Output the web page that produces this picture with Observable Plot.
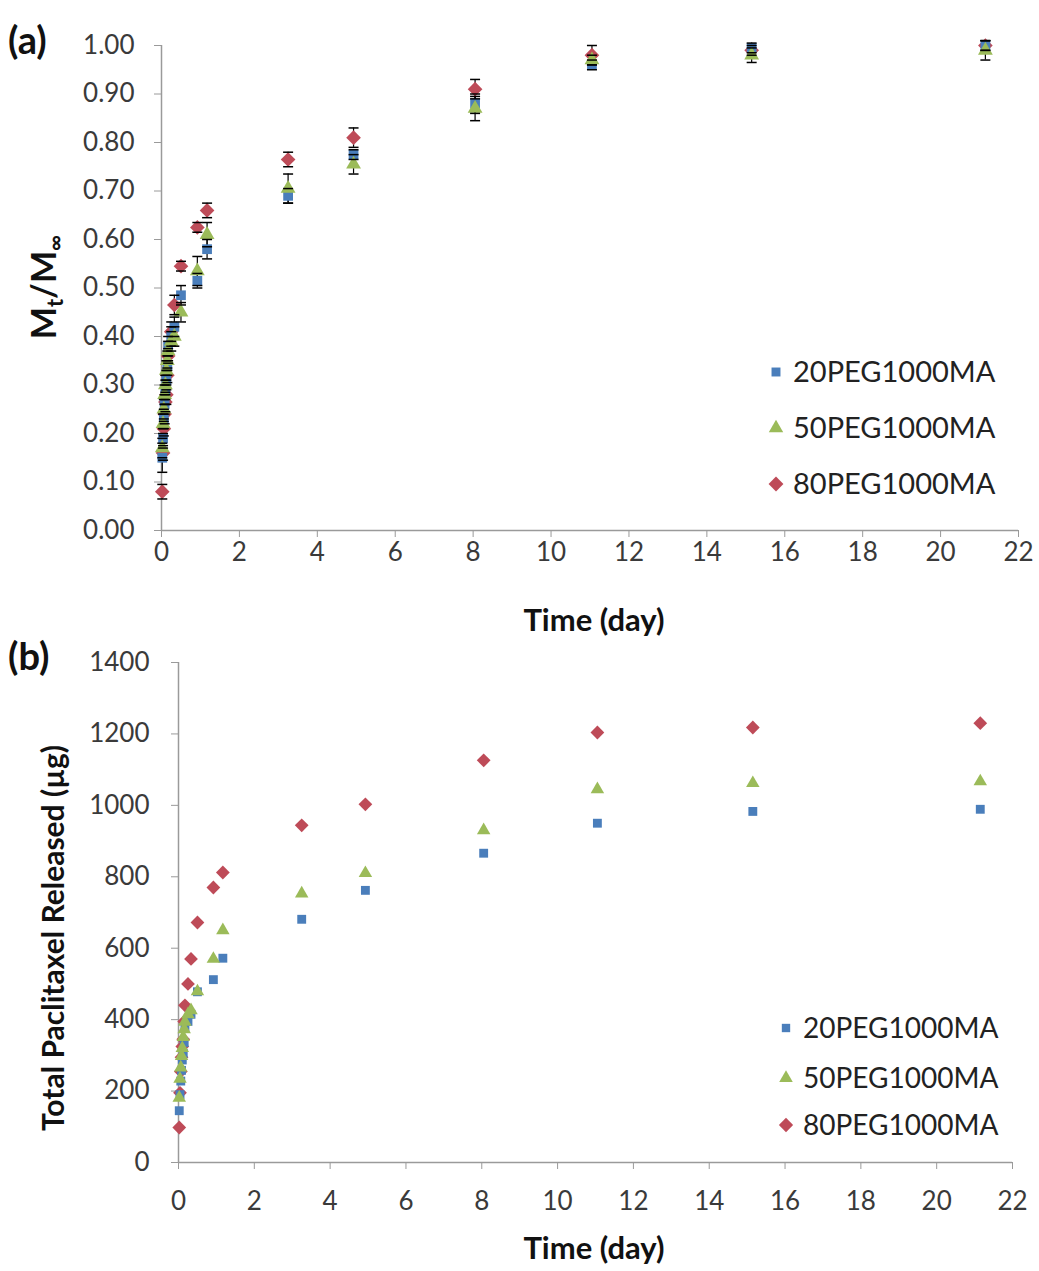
<!DOCTYPE html>
<html><head><meta charset="utf-8">
<script src="https://cdn.jsdelivr.net/npm/d3@7"></script>
<script src="https://cdn.jsdelivr.net/npm/@observablehq/plot@0.6"></script>
<style>
body{margin:0;background:#fff;font-family:Lato,"Open Sans",sans-serif;}
#wrap{position:relative;width:1039px;height:1271px;overflow:hidden;}
.panel{position:absolute;left:0;}
.tag{position:absolute;font-weight:bold;font-size:38px;color:#111;line-height:1;}
</style></head><body><div id="wrap"></div>
<script>
// ---- data ----
const series = ["20PEG1000MA", "50PEG1000MA", "80PEG1000MA"];
const days = [0.02,0.04,0.06,0.08,0.10,0.125,0.15,0.17,0.25,0.33,0.5,0.92,1.17,3.25,4.93,8.05,11.05,15.15,21.15];
// panel (a): Mt/M∞
const blueA  = [0.15,0.19,0.23,0.26,0.29,0.31,0.34,0.38,0.40,0.42,0.485,0.515,0.58,0.69,0.775,0.88,0.96,0.995,1.00];
const greenA = [0.17,0.22,0.25,0.28,0.30,0.33,0.35,0.37,0.39,0.40,0.45,0.535,0.61,0.705,0.755,0.87,0.97,0.98,0.99];
const redA   = [0.08,0.16,0.21,0.24,0.265,0.28,0.32,0.36,0.41,0.465,0.545,0.625,0.66,0.765,0.81,0.91,0.98,0.99,1.00];
const blueErr  = [0.03,0.02,0.02,0.02,0.02,0.02,0.02,0.02,0.02,0.02,0.02,0.015,0.02,0.015,0.01,0.02,0.01,0.01,0.01];
const greenErr = [0.02,0.02,0.02,0.02,0.02,0.02,0.02,0.02,0.02,0.02,0.02,0.03,0.025,0.03,0.02,0.025,0.01,0.015,0.02];
const redErr   = [0.015,0.015,0.015,0.02,0.02,0.02,0.015,0.015,0.02,0.02,0.01,0.01,0.015,0.015,0.02,0.02,0.02,0.01,0.01];
// panel (b): total paclitaxel released (µg)
const blueB  = [145,190,228,258,287,306,336,375,395,415,478,512,572,681,762,866,950,983,989];
const greenB = [181,234,266,298,320,351,373,394,415,426,479,570,650,753,810,930,1045,1062,1067];
const redB   = [98,195,255,295,325,345,395,440,500,570,672,770,812,944,1003,1126,1204,1218,1230];
// ticks
const xTicks = [0,2,4,6,8,10,12,14,16,18,20,22];
const yTicksA = [0,0.1,0.2,0.3,0.4,0.5,0.6,0.7,0.8,0.9,1.0];
const yTicksB = [0,200,400,600,800,1000,1200,1400];

// ---- styles ----
const colors = ["#4A7EBB", "#9BBB59", "#BE4B58"];
const symbols = ["square", "triangle", "diamond2"];
const legendSymbols = [d3.symbolSquare, d3.symbolTriangle, d3.symbolDiamond2];
const FONT = "Lato, 'Open Sans', sans-serif";
const capSymbol = {draw(ctx, size){ const r = Math.sqrt(size/Math.PI); ctx.moveTo(-r,0); ctx.lineTo(r,0); }};

function rows(vals, errs){
  const out = [];
  vals.forEach((v, si) => v.forEach((y, i) => out.push({t: days[i], v: y, s: series[si], e: errs ? errs[si][i] : 0})));
  return out;
}
const dataA = rows([blueA, greenA, redA], [blueErr, greenErr, redErr]);
const dataB = rows([blueB, greenB, redB]);

const wrap = document.getElementById("wrap");

function addPanel(top, svg){
  const div = document.createElement("div");
  div.className = "panel"; div.style.top = top + "px";
  div.appendChild(svg);
  wrap.appendChild(div);
}

// marker radius per series (diamond2 draws smaller than square at equal r)
const sizeA = [5.5, 5.5, 6.6];
const sizeB = [5, 5, 6.2];

// ---- panel (a) ----
const plotA = Plot.plot({
  width: 1039, height: 640,
  marginTop: 45, marginBottom: 110, marginLeft: 161, marginRight: 21,
  style: {fontFamily: FONT, fontSize: "26px", background: "transparent", color: "#333"},
  x: {domain: [0, 22], label: null},
  y: {domain: [0, 1], label: null},
  r: {type: "identity"},
  color: {domain: series, range: colors},
  symbol: {domain: series, range: symbols},
  marks: [
    Plot.ruleY([0], {stroke: "#9a9a9a", strokeWidth: 1.5}),
    Plot.ruleX([0], {stroke: "#9a9a9a", strokeWidth: 1.5}),
    Plot.axisX({ticks: xTicks, tickSize: 7, tickPadding: 5, stroke: "#9a9a9a", fill: "#3a3a3a", label: null}),
    Plot.axisY({ticks: yTicksA, tickSize: 7, tickPadding: 20, tickFormat: d => d.toFixed(2), stroke: "#9a9a9a", fill: "#3a3a3a", label: null}),
    Plot.ruleX(dataA, {x: "t", y1: d => d.v - d.e, y2: d => d.v + d.e, stroke: "#000", strokeWidth: 1.2}),
    Plot.dot(dataA, {x: "t", y: "v", symbol: "s", fill: "s", r: d => sizeA[series.indexOf(d.s)]}),
    Plot.dot(dataA, {x: "t", y: d => d.v + d.e, symbol: capSymbol, stroke: "#000", strokeWidth: 1.5, r: 5}),
    Plot.dot(dataA, {x: "t", y: d => d.v - d.e, symbol: capSymbol, stroke: "#000", strokeWidth: 1.5, r: 5})
  ]
});

// ---- panel (b) ----
const plotB = Plot.plot({
  width: 1039, height: 631,
  marginTop: 22, marginBottom: 109, marginLeft: 178, marginRight: 27,
  style: {fontFamily: FONT, fontSize: "26px", background: "transparent", color: "#333"},
  x: {domain: [0, 22], label: null},
  y: {domain: [0, 1400], label: null},
  r: {type: "identity"},
  color: {domain: series, range: colors},
  symbol: {domain: series, range: symbols},
  marks: [
    Plot.ruleY([0], {stroke: "#9a9a9a", strokeWidth: 1.5}),
    Plot.ruleX([0], {stroke: "#9a9a9a", strokeWidth: 1.5}),
    Plot.axisX({ticks: xTicks, tickSize: 7, tickPadding: 22, stroke: "#9a9a9a", fill: "#3a3a3a", label: null}),
    Plot.axisY({ticks: yTicksB, tickSize: 7, tickPadding: 22, tickFormat: d => String(d), stroke: "#9a9a9a", fill: "#3a3a3a", label: null}),
    Plot.dot(dataB, {x: "t", y: "v", symbol: "s", fill: "s", r: d => sizeB[series.indexOf(d.s)]})
  ]
});

// ---- titles and legends (text added to the SVGs) ----
function decorate(svgNode, o){
  const svg = d3.select(svgNode);
  const g = svg.append("g").attr("font-family", FONT).attr("fill", "#111");
  g.append("text").attr("x", o.xTitleX).attr("y", o.xTitleY).attr("text-anchor", "middle")
    .attr("font-weight", "bold").attr("font-size", 31).text("Time (day)");
  const yt = g.append("text").attr("transform", `translate(${o.yTitleX},${o.yTitleY}) rotate(-90)`)
    .attr("text-anchor", "middle").attr("font-weight", "bold").attr("font-size", o.yTitleSize);
  o.yTitle(yt);
  const lg = svg.append("g").attr("font-family", FONT).attr("text-anchor", "start");
  series.forEach((s, i) => {
    const y = o.legY[i];
    lg.append("path").attr("transform", `translate(${o.legX},${y})`)
      .attr("d", d3.symbol(legendSymbols[i], o.legSize[i])())
      .attr("fill", colors[i]);
    lg.append("text").attr("x", o.legX + 17).attr("y", y).attr("dy", "0.36em")
      .attr("text-anchor", "start")
      .attr("font-size", o.legFont).attr("fill", "#222").text(s);
  });
}

decorate(plotA, {
  xTitleX: 594, xTitleY: 631,
  yTitleX: 56, yTitleY: 287, yTitleSize: 34,
  yTitle: t => {
    t.append("tspan").text("M");
    t.append("tspan").attr("font-size", 22).attr("dy", 7).text("t");
    t.append("tspan").attr("dy", -7).text("/M");
    t.append("tspan").attr("font-size", 22).attr("dy", 7).text("∞");
  },
  legX: 776, legY: [372, 428, 484], legSize: [80, 90, 140], legFont: 29
});
decorate(plotB, {
  xTitleX: 594, xTitleY: 619,
  yTitleX: 64, yTitleY: 298, yTitleSize: 30,
  yTitle: t => t.text("Total Paclitaxel Released (µg)"),
  legX: 786, legY: [388, 438, 485], legSize: [70, 80, 130], legFont: 28
});

addPanel(0, plotA);
addPanel(640, plotB);

// panel tags
[["(a)", 8, 20], ["(b)", 8, 636]].forEach(([t, x, y]) => {
  const d = document.createElement("div");
  d.className = "tag"; d.style.left = x + "px"; d.style.top = y + "px"; d.textContent = t;
  wrap.appendChild(d);
});
</script>
</body></html>
